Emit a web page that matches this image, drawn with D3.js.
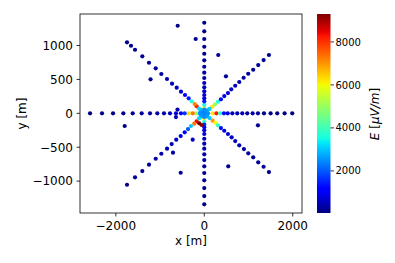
<!DOCTYPE html>
<html>
<head>
<meta charset="utf-8">
<script src="https://cdn.jsdelivr.net/npm/d3@7"></script>
<style>
  body { margin: 0; background: #fff; }
  text { font-family: "DejaVu Sans", sans-serif; fill: #000; }
</style>
</head>
<body>
<svg id="chart" width="395" height="263"></svg>
<script>
// star pattern arms, each point is [x (m), y (m), E (uV/m)]
const armEast = [[190,0,6200],[275,0,8200],[360,0,3800],[445,0,1300],[530,0,800],[635,0,600],[746,0,480],[859,0,400],[972,0,340],[1094,0,290],[1214,0,240],[1350,0,200],[1500,0,160],[1650,0,130],[1817,0,100],[1989,0,70]];
const armWest = [[-113,0,3000],[-188,0,5000],[-262,0,7300],[-352,0,6300],[-443,0,1700],[-527,0,1000],[-640,0,700],[-775,0,550],[-911,0,450],[-1062,0,380],[-1227,0,320],[-1415,0,260],[-1618,0,210],[-1830,0,170],[-2063,0,130],[-2312,0,90],[-2583,0,40]];
const armNorth = [[0,80,6000],[0,125,3500],[0,177,1400],[0,221,950],[0,270,750],[0,324,620],[0,383,520],[0,447,450],[0,521,390],[0,599,330],[0,687,280],[0,782,240],[0,879,200],[0,982,170],[0,1096,140],[0,1209,110],[0,1336,80]];
const armSouth = [[0,-80,6000],[0,-125,3800],[0,-165,1600],[0,-205,1050],[0,-251,850],[0,-305,700],[0,-375,580],[0,-448,490],[0,-522,420],[0,-605,360],[0,-690,310],[0,-781,260],[0,-880,220],[0,-988,190],[0,-1102,150],[0,-1220,110],[0,-1342,80]];
const armNE = [[181,97,6200],[242,133,5000],[310,171,3600],[377,206,1300],[452,255,900],[536,299,720],[610,354,600],[700,407,510],[791,462,440],[890,525,380],[994,584,330],[1107,643,280],[1220,712,240],[1342,786,200],[1462,860,160]];
const armNW = [[-172,103,8200],[-217,137,7200],[-285,177,3600],[-353,221,1400],[-436,270,1000],[-526,319,780],[-623,378,640],[-729,437,540],[-842,506,460],[-971,580,390],[-1098,664,340],[-1250,746,290],[-1401,841,240],[-1566,938,200],[-1656,997,170],[-1747,1047,140]];
const armSW = [[-172,-118,8400],[-226,-153,7300],[-301,-187,3000],[-368,-232,2000],[-443,-280,1100],[-533,-335,820],[-633,-389,680],[-737,-453,570],[-842,-522,480],[-971,-596,410],[-1098,-670,350],[-1250,-758,290],[-1401,-851,240],[-1566,-944,200],[-1747,-1053,150]];
const armSE = [[190,-109,7000],[249,-139,6000],[310,-177,3800],[377,-217,1300],[452,-257,900],[536,-305,720],[619,-354,600],[700,-409,510],[791,-472,440],[897,-527,380],[994,-590,330],[1107,-649,280],[1220,-723,240],[1342,-788,200],[1462,-866,160]];
// antennas off the arms
const extra = [[-601,1292,140],[-194,1096,180],[316,860,200],[490,546,280],[-1215,501,190],[-605,55,450],[-640,-55,450],[-1799,-187,90],[1213,-177,190],[-262,-389,550],[-707,-581,330],[-533,-876,230],[542,-782,230],[-113,-147,9300],[-59,-172,9250]];
// points packed round the core
const core = [[0,0,2300],[40,0,2350],[-50,0,2350],[0,30,2350],[0,-30,2350],[30,22,2400],[-38,22,2400],[30,-22,2400],[-38,-22,2400],[85,0,2500],[-95,0,2500],[0,55,2500],[0,-55,2500],[70,45,2550],[-80,50,2600],[70,-45,2550],[-80,-50,2600],[120,65,3000],[-120,70,3200],[-120,-75,3200],[120,-70,3000]];

const xTicks = [-2000, 0, 2000];
const yTicks = [-1000, -500, 0, 500, 1000];
const cTicks = [2000, 4000, 6000, 8000];

const points = [].concat(armEast, armWest, armNorth, armSouth, armNE, armNW, armSW, armSE, extra, core);

// matplotlib "jet"
const jetR = d3.scaleLinear().domain([0, 0.35, 0.66, 0.89, 1]).range([0, 0, 1, 1, 0.5]).clamp(true);
const jetG = d3.scaleLinear().domain([0, 0.125, 0.375, 0.64, 0.91, 1]).range([0, 0, 1, 1, 0, 0]).clamp(true);
const jetB = d3.scaleLinear().domain([0, 0.11, 0.34, 0.65, 1]).range([0.5, 1, 1, 0, 0]).clamp(true);
function jet(t) { return d3.rgb(jetR(t) * 255, jetG(t) * 255, jetB(t) * 255).formatHex(); }

const eExtent = d3.extent(points, d => d[2]);
const norm = d3.scaleLinear().domain(eExtent).range([0, 1]);

const chart = d3.select("#chart");
const x = d3.scaleLinear().domain([-2810, 2210]).range([80, 302]);
const y = d3.scaleLinear().domain([-1470, 1465]).range([213, 14]);
const fmt = d3.format("d");

chart.append("g")
  .selectAll("circle")
  .data(points)
  .join("circle")
  .attr("cx", d => x(d[0]))
  .attr("cy", d => y(d[1]))
  .attr("r", 2.1)
  .style("fill", d => jet(norm(d[2])))
  ;

// frame
chart.append("rect")
  .attr("x", 80)
  .attr("y", 14)
  .attr("width", 222)
  .attr("height", 199)
  .style("fill", "none")
  .style("stroke", "#000")
  .style("stroke-width", 0.8)
  ;

// x axis
const xg = chart.append("g");
xg.selectAll("line").data(xTicks).join("line")
  .attr("x1", d => x(d)).attr("x2", d => x(d))
  .attr("y1", 213).attr("y2", 216.5)
  .style("stroke", "#000").style("stroke-width", 0.8);
xg.selectAll("text").data(xTicks).join("text")
  .attr("x", d => x(d))
  .attr("y", 229.5)
  .attr("text-anchor", "middle")
  .style("font-size", "12px")
  .text(d => fmt(d));
chart.append("text")
  .attr("x", 191)
  .attr("y", 244.5)
  .attr("text-anchor", "middle")
  .style("font-size", "12px")
  .text("x [m]");

// y axis
const yg = chart.append("g");
yg.selectAll("line").data(yTicks).join("line")
  .attr("x1", 76.5).attr("x2", 80)
  .attr("y1", d => y(d)).attr("y2", d => y(d))
  .style("stroke", "#000").style("stroke-width", 0.8);
yg.selectAll("text").data(yTicks).join("text")
  .attr("x", 73)
  .attr("y", d => y(d))
  .attr("dy", "0.36em")
  .attr("text-anchor", "end")
  .style("font-size", "12px")
  .text(d => fmt(d));
chart.append("text")
  .attr("transform", "translate(25.5,113.5) rotate(-90)")
  .attr("text-anchor", "middle")
  .style("font-size", "12px")
  .text("y [m]");

// colorbar
const cy = d3.scaleLinear().domain(eExtent).range([213, 14]);
const grad = chart.append("defs").append("linearGradient")
  .attr("id", "jetGrad")
  .attr("x1", 0).attr("y1", 1).attr("x2", 0).attr("y2", 0);
grad.selectAll("stop").data(d3.range(0, 1.0001, 0.01)).join("stop")
  .attr("offset", d => d)
  .attr("stop-color", d => jet(d));
chart.append("rect")
  .attr("x", 317)
  .attr("y", 14)
  .attr("width", 13.5)
  .attr("height", 199)
  .style("fill", "url(#jetGrad)")
  ;
const cg = chart.append("g");
cg.selectAll("line").data(cTicks).join("line")
  .attr("x1", 330.5).attr("x2", 334)
  .attr("y1", d => cy(d)).attr("y2", d => cy(d))
  .style("stroke", "#000").style("stroke-width", 0.8);
cg.selectAll("text").data(cTicks).join("text")
  .attr("x", 335.5)
  .attr("y", d => cy(d))
  .attr("dy", "0.36em")
  .style("font-size", "10px")
  .text(d => fmt(d));
const clab = chart.append("text")
  .attr("transform", "translate(379,114) rotate(-90)")
  .attr("text-anchor", "middle")
  .style("font-size", "12px");
clab.append("tspan").style("font-style", "italic").text("E");
clab.append("tspan").text(" [");
clab.append("tspan").style("font-style", "italic").text("μV/m");
clab.append("tspan").text("]");
</script>
</body>
</html>
